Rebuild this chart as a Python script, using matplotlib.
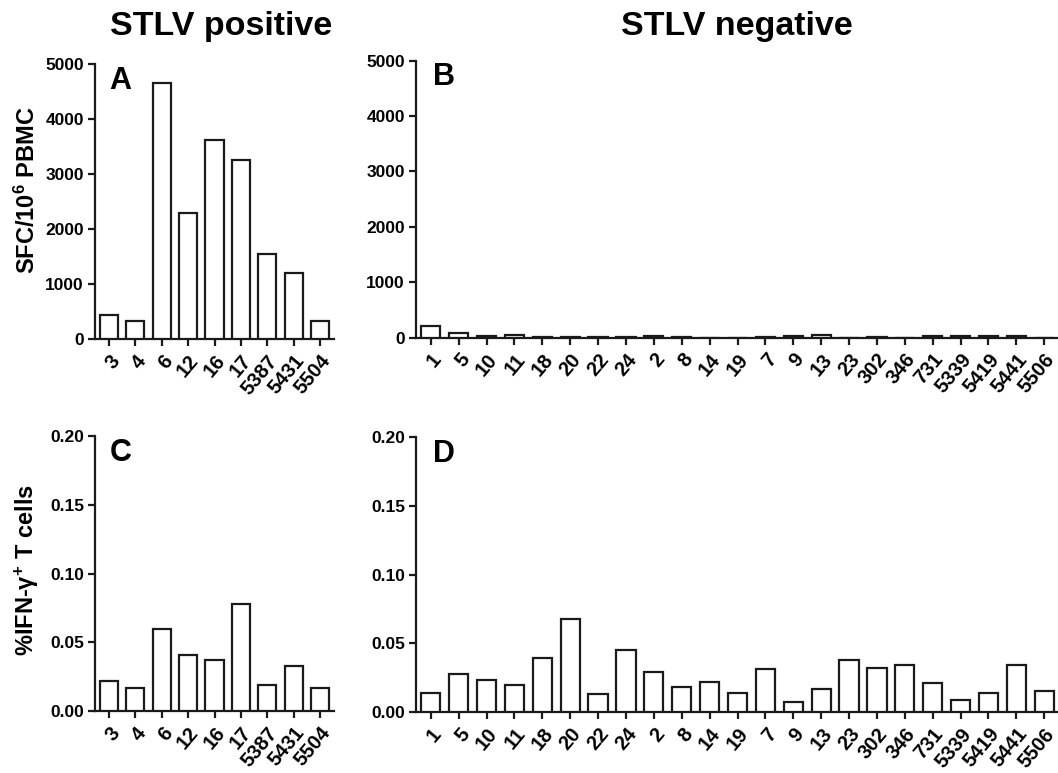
import matplotlib
matplotlib.use("Agg")
import matplotlib.pyplot as plt
import numpy as np

plt.rcParams['font.family'] = ['Liberation Sans', 'DejaVu Sans']
plt.rcParams['font.weight'] = 'bold'
plt.rcParams['mathtext.fontset'] = 'custom'
plt.rcParams['mathtext.rm'] = 'Liberation Sans:bold'
plt.rcParams['mathtext.bf'] = 'Liberation Sans:bold'
plt.rcParams['mathtext.it'] = 'Liberation Sans:bold:italic'
plt.rcParams['mathtext.default'] = 'bf'

# ---------------- data ----------------
pos_ids = ['3', '4', '6', '12', '16', '17', '5387', '5431', '5504']
neg_ids = ['1', '5', '10', '11', '18', '20', '22', '24', '2', '8', '14', '19',
           '7', '9', '13', '23', '302', '346', '731', '5339', '5419', '5441', '5506']

sfc_pos = [440, 330, 4660, 2300, 3625, 3255, 1550, 1200, 330]
sfc_neg = [205, 90, 25, 40, 15, 10, 5, 10, 35, 10, 0, 0,
           10, 35, 45, 0, 15, 0, 30, 25, 25, 30, 0]

ifn_pos = [0.022, 0.017, 0.060, 0.041, 0.037, 0.078, 0.019, 0.033, 0.017]
ifn_neg = [0.014, 0.028, 0.023, 0.020, 0.039, 0.068, 0.013, 0.045, 0.029, 0.018,
           0.022, 0.014, 0.031, 0.007, 0.017, 0.038, 0.032, 0.034, 0.021, 0.009,
           0.014, 0.034, 0.015]

sfc_ticks = [0, 1000, 2000, 3000, 4000, 5000]
ifn_ticks = [0.00, 0.05, 0.10, 0.15, 0.20]

# ---------------- layout ----------------
W, H = 1058, 773
fig = plt.figure(figsize=(W / 100, H / 100), dpi=100)


def rect(left, right, top, bottom):
    return [left / W, 1 - bottom / H, (right - left) / W, (bottom - top) / H]


axA = fig.add_axes(rect(95, 334, 64.3, 339))
axB = fig.add_axes(rect(416, 1059, 60.7, 337.5))
axC = fig.add_axes(rect(95, 334, 436.3, 711))
axD = fig.add_axes(rect(416, 1059, 437.3, 712))

LW = 1.6


def draw(ax, labels, vals, ticks, ylim, fmt, letter, lx):
    x = np.arange(len(labels))
    ax.bar(x, vals, width=0.69, color='white', edgecolor='#1a1a1a',
           linewidth=LW, zorder=3)
    ax.set_xlim(-0.53, len(labels) - 0.47)
    ax.set_ylim(*ylim)
    ax.set_yticks(ticks)
    ax.set_yticklabels([fmt.format(t) for t in ticks], fontsize=12.5,
                       fontweight='bold')
    ax.set_xticks(x)
    ax.set_xticklabels(labels, rotation=50, ha='right', va='top',
                       rotation_mode='anchor', fontsize=14.5, fontweight='bold')
    for s in ['top', 'right']:
        ax.spines[s].set_visible(False)
    for s in ['left', 'bottom']:
        ax.spines[s].set_linewidth(LW)
        ax.spines[s].set_color('#1a1a1a')
    ax.tick_params(axis='both', length=5, width=LW, color='#1a1a1a')
    ax.tick_params(axis='y', pad=3)
    ax.tick_params(axis='x', pad=4)
    ax.text(lx, 0.995, letter, transform=ax.transAxes, fontsize=22,
            fontweight='bold', ha='left', va='top')


draw(axA, pos_ids, sfc_pos, sfc_ticks, (0, 5000), '{:d}', 'A', 0.06)
draw(axB, neg_ids, sfc_neg, sfc_ticks, (0, 5000), '{:d}', 'B', 0.027)
draw(axC, pos_ids, ifn_pos, ifn_ticks, (0, 0.20), '{:.2f}', 'C', 0.06)
draw(axD, neg_ids, ifn_neg, ifn_ticks, (0, 0.20), '{:.2f}', 'D', 0.027)

fig.text(27 / W, 1 - 190 / H, r'SFC/10$^{6}$ PBMC', rotation=90,
         ha='center', va='center', fontsize=17, fontweight='bold')
fig.text(27 / W, 1 - 570 / H, r'%IFN-γ$^{+}$ T cells', rotation=90,
         ha='center', va='center', fontsize=17, fontweight='bold')

fig.text(221 / W, 1 - 26 / H, 'STLV positive', ha='center', va='center',
         fontsize=24.5, fontweight='bold')
fig.text(737 / W, 1 - 26 / H, 'STLV negative', ha='center', va='center',
         fontsize=24.5, fontweight='bold')

fig.savefig('out.png', dpi=100)
